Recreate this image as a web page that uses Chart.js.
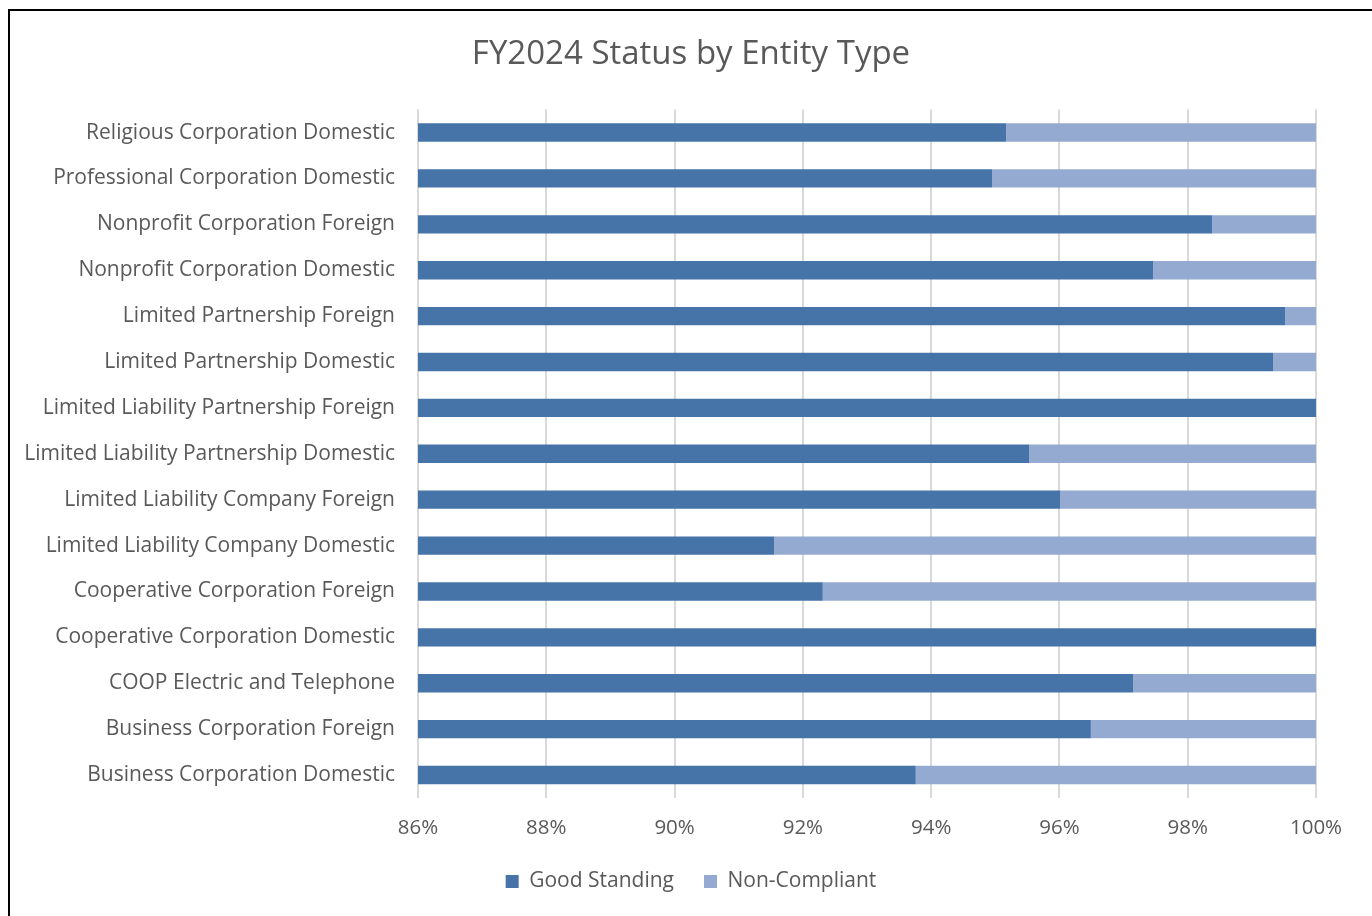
<!DOCTYPE html>
<html>
<head>
<meta charset="utf-8">
<title>FY2024 Status by Entity Type</title>
<script src="https://cdn.jsdelivr.net/npm/chart.js@4.4.1/dist/chart.umd.min.js"></script>
<style>
  html, body { margin: 0; padding: 0; background: #fff; overflow: hidden; }
  #wrap { position: relative; width: 1372px; height: 916px; }
  #frame {
    position: absolute; left: 8px; top: 9px; width: 1400px; height: 950px;
    border: 2px solid #000; box-sizing: border-box; pointer-events: none;
  }
  canvas { position: absolute; left: 0; top: 0; }
</style>
</head>
<body>
<div id="wrap">
  <canvas id="StatusChart" width="1372" height="916"></canvas>
  <div id="frame"></div>
</div>
<script>
(function () {
  "use strict";

  // Data
  const entityTypes = [
    'Religious Corporation Domestic',
    'Professional Corporation Domestic',
    'Nonprofit Corporation Foreign',
    'Nonprofit Corporation Domestic',
    'Limited Partnership Foreign',
    'Limited Partnership Domestic',
    'Limited Liability Partnership Foreign',
    'Limited Liability Partnership Domestic',
    'Limited Liability Company Foreign',
    'Limited Liability Company Domestic',
    'Cooperative Corporation Foreign',
    'Cooperative Corporation Domestic',
    'COOP Electric and Telephone',
    'Business Corporation Foreign',
    'Business Corporation Domestic'
  ];
  const goodStanding = [95.17, 94.95, 98.38, 97.46, 99.52, 99.33, 100, 95.53, 96.01, 91.55, 92.31, 100, 97.15, 96.49, 93.76];
  const nonCompliant = [4.83, 5.05, 1.62, 2.54, 0.48, 0.67, 0, 4.47, 3.99, 8.45, 7.69, 0, 2.85, 3.51, 6.24];
  const xTicks = [86, 88, 90, 92, 94, 96, 98, 100];

  // Colors
  const blue_dark  = '#4674A8';
  const blue_light = '#95AAD1';
  const text_gray  = '#595959';

  Chart.defaults.font.family = '"Open Sans", Lato, sans-serif';
  Chart.defaults.color = text_gray;

  const ctx = document.getElementById('StatusChart').getContext('2d');
  new Chart(ctx, {
    type: 'bar',
    data: {
      labels: entityTypes,
      datasets: [{
        label: 'Good Standing',
        data: goodStanding,
        backgroundColor: blue_dark,
        categoryPercentage: 1,
        barPercentage: 0.4
      },
      {
        label: 'Non-Compliant',
        data: nonCompliant,
        backgroundColor: blue_light,
        categoryPercentage: 1,
        barPercentage: 0.4
      }]
    },
    options: {
      indexAxis: 'y',
      responsive: false,
      animation: false,
      layout: {
        padding: { left: 10, right: 0, top: 0, bottom: 14 }
      },
      plugins: {
        title: {
          display: true,
          text: 'FY2024 Status by Entity Type',
          font: { size: 33, weight: 'normal' },
          color: text_gray,
          padding: { top: 35, bottom: 35 }
        },
        legend: {
          position: 'bottom',
          labels: {
            boxWidth: 13,
            boxHeight: 13,
            font: { size: 21 },
            color: text_gray,
            padding: 30
          }
        },
        tooltip: { enabled: false }
      },
      scales: {
        x: {
          stacked: true,
          min: 86,
          max: 100,
          afterBuildTicks: function (scale) {
            scale.ticks = xTicks.map(function (v) { return { value: v }; });
          },
          afterFit: function (scale) { scale.height = 43; },
          ticks: {
            font: { size: 20.5 },
            color: text_gray,
            padding: 18,
            callback: function (value) { return value + '%'; }
          },
          grid: {
            color: '#D9D9D9',
            lineWidth: 2,
            drawTicks: false
          },
          border: { display: false }
        },
        y: {
          stacked: true,
          afterFit: function (scale) { scale.width = 408; },
          ticks: {
            font: { size: 21 },
            color: text_gray,
            padding: 15,
            autoSkip: false
          },
          grid: { display: false },
          border: { display: false }
        },
        // empty right-hand spacer so the title centres on the whole frame
        yRight: {
          type: 'category',
          position: 'right',
          afterFit: function (scale) { scale.width = 56; },
          ticks: { display: false },
          grid: { display: false },
          border: { display: false }
        }
      }
    }
  });
})();
</script>
</body>
</html>
